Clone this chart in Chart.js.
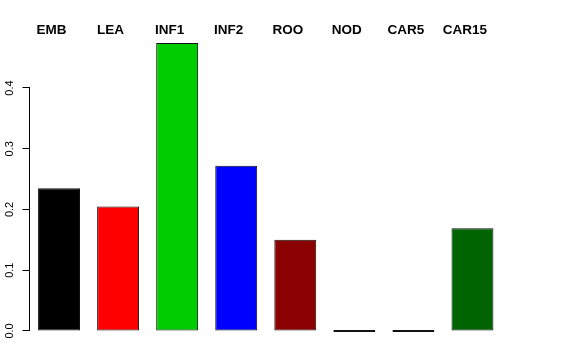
<!DOCTYPE html>
<html>
<head>
<meta charset="utf-8">
<script src="https://cdn.jsdelivr.net/npm/chart.js@4"></script>
<style>
  html, body { margin: 0; padding: 0; background: #fff; }
  #wrap { width: 576px; height: 360px; }
</style>
</head>
<body>
<div id="wrap"><canvas id="chart" width="576" height="360"></canvas></div>
<script>
// values
const categories = ["EMB", "LEA", "INF1", "INF2", "ROO", "NOD", "CAR5", "CAR15"];
const values = [0.235, 0.205, 0.474, 0.272, 0.150, 0, 0, 0.169];
const barColors = ["#000000", "#ff0000", "#00cd00", "#0000ff", "#8b0000", "#333333", "#333333", "#006400"];
const yTicks = [0, 0.1, 0.2, 0.3, 0.4];

// axis line only spans the tick range, like base R
const axisLine = {
    id: "axisLine",
    afterDraw(chart) {
        const y = chart.scales.y;
        const ctx = chart.ctx;
        const x = Math.round(y.right) - 0.5;
        ctx.save();
        ctx.strokeStyle = "#000";
        ctx.lineWidth = 1;
        ctx.beginPath();
        ctx.moveTo(x, y.getPixelForValue(yTicks[0]));
        ctx.lineTo(x, y.getPixelForValue(yTicks[yTicks.length - 1]));
        ctx.stroke();
        ctx.restore();
    }
};

// category names written above the bars
const topLabels = {
    id: "topLabels",
    afterDraw(chart) {
        const xs = chart.scales.x;
        const ctx = chart.ctx;
        ctx.save();
        ctx.fillStyle = "#000";
        ctx.font = "bold 13.5px 'Liberation Sans', Arial, sans-serif";
        ctx.textAlign = "center";
        ctx.textBaseline = "middle";
        categories.forEach((c, i) => {
            ctx.fillText(c, xs.getPixelForValue(i) - 7.5, 30);
        });
        ctx.restore();
    }
};

new Chart(document.getElementById("chart").getContext("2d"), {
    type: "bar",
    data: {
        labels: categories,
        datasets: [{
            data: values,
            backgroundColor: barColors,
            borderColor: "#111",
            borderWidth: 1,
            borderSkipped: false,
            minBarLength: 2,
            barPercentage: 0.71,
            categoryPercentage: 1
        }]
    },
    options: {
        responsive: false,
        animation: false,
        layout: { padding: { top: 31.5, right: 74, bottom: 17.5, left: 0 } },
        plugins: { legend: { display: false }, tooltip: { enabled: false } },
        scales: {
            x: { display: false },
            y: {
                min: -0.019,
                max: 0.493,
                afterFit: (scale) => { scale.width = 29.5; },
                afterBuildTicks: (scale) => { scale.ticks = yTicks.map(v => ({ value: v })); },
                border: { display: false },
                grid: { drawOnChartArea: false, drawTicks: true, tickLength: 7, color: "#000" },
                ticks: {
                    minRotation: 90,
                    maxRotation: 90,
                    crossAlign: "center",
                    padding: 5,
                    color: "#000",
                    font: { family: "'Liberation Sans', Arial, sans-serif", size: 11 },
                    callback: (v) => Number(v).toFixed(1)
                }
            }
        }
    },
    plugins: [axisLine, topLabels]
});
</script>
</body>
</html>
